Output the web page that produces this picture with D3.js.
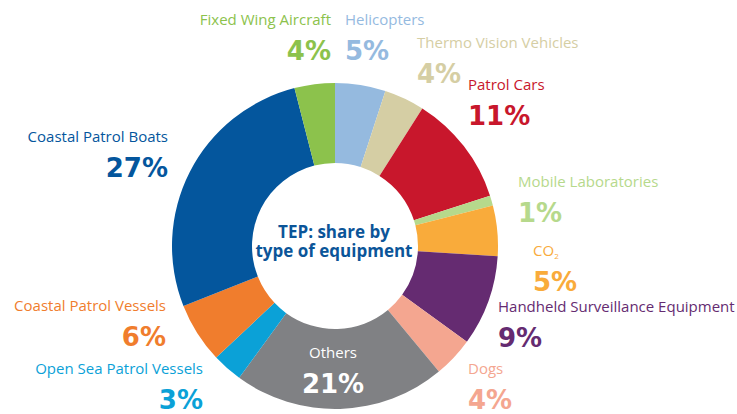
<!DOCTYPE html>
<html>
<head>
<meta charset="utf-8">
<script src="https://cdn.jsdelivr.net/npm/d3@7"></script>
<style>
  html, body { margin: 0; padding: 0; background: #ffffff; }
  svg { display: block; }
  text { font-family: "Open Sans", "Noto Sans", sans-serif; }
  text.pct { font-family: "DejaVu Sans", sans-serif; }
</style>
</head>
<body>
<svg id="chart" width="737" height="414"></svg>
<script>
// ---- data ----
const categories = [
  "Helicopters", "Thermo Vision Vehicles", "Patrol Cars", "Mobile Laboratories",
  "CO2", "Handheld Surveillance Equipment", "Dogs", "Others",
  "Open Sea Patrol Vessels", "Coastal Patrol Vessels", "Coastal Patrol Boats", "Fixed Wing Aircraft"
];
const shares = [5, 4, 11, 1, 5, 9, 4, 21, 3, 6, 27, 4];
const sliceColors = [
  "#95badf", "#d5cea4", "#c8172c", "#b6d98c",
  "#f9ab3b", "#652b71", "#f4a690", "#808184",
  "#0ba1d7", "#f07d2d", "#04569d", "#8cc24c"
];
const labelColors = [
  "#95badf", "#d5cea4", "#c8172c", "#b6d98c",
  "#f9ab3b", "#652b71", "#f4a690", "#ffffff",
  "#0ba1d7", "#f07d2d", "#04569d", "#8cc24c"
];
const centerTitle = ["TEP: share by", "type of equipment"];

// ---- layout (label anchors, not data) ----
const labelLayout = [
  { x: 345, y: 25, a: "start" },
  { x: 417, y: 48, a: "start" },
  { x: 468, y: 90, a: "start" },
  { x: 518, y: 187, a: "start" },
  { x: 533, y: 256, a: "start" },
  { x: 498, y: 312, a: "start" },
  { x: 468, y: 374, a: "start" },
  { x: 333, y: 358, a: "middle" },
  { x: 203, y: 374, a: "end" },
  { x: 166, y: 311, a: "end" },
  { x: 168, y: 142, a: "end" },
  { x: 331, y: 25, a: "end" }
];
const pctGap = 35;

const svg = d3.select("#chart");
const cx = 335, cy = 246, rOuter = 163, rInner = 83;

const rows = categories.map((c, i) => ({ name: c, value: shares[i], color: sliceColors[i], lc: labelColors[i], lay: labelLayout[i] }));

const pie = d3.pie().sort(null).value(d => d.value);
const arc = d3.arc().innerRadius(rInner).outerRadius(rOuter);

const g = svg.append("g").attr("transform", `translate(${cx},${cy})`);
g.selectAll("path").data(pie(rows)).join("path")
  .attr("d", arc)
  .attr("fill", d => d.data.color);

// center title
svg.append("text")
  .attr("x", 334).attr("y", 238)
  .attr("text-anchor", "middle")
  .attr("font-weight", 700).attr("font-size", 17)
  .attr("fill", "#0b5599")
  .selectAll("tspan").data(centerTitle).join("tspan")
  .attr("x", 334).attr("dy", (d, i) => i === 0 ? 0 : 19)
  .text(d => d);

// labels
const lab = svg.append("g");
rows.forEach(r => {
  const t = lab.append("text")
    .attr("x", r.lay.x).attr("y", r.lay.y)
    .attr("text-anchor", r.lay.a)
    .attr("font-size", 15)
    .attr("fill", r.lc);
  if (r.name === "CO2") {
    t.append("tspan").text("CO");
    t.append("tspan").attr("font-size", 8).attr("dy", 3).text("2");
  } else {
    t.text(r.name);
  }
  lab.append("text")
    .attr("class", "pct")
    .attr("x", r.lay.x).attr("y", r.lay.y + pctGap)
    .attr("text-anchor", r.lay.a)
    .attr("font-size", 26).attr("font-weight", 700)
    .attr("fill", r.lc)
    .text(d3.format("d")(r.value) + "%");
});
</script>
</body>
</html>
